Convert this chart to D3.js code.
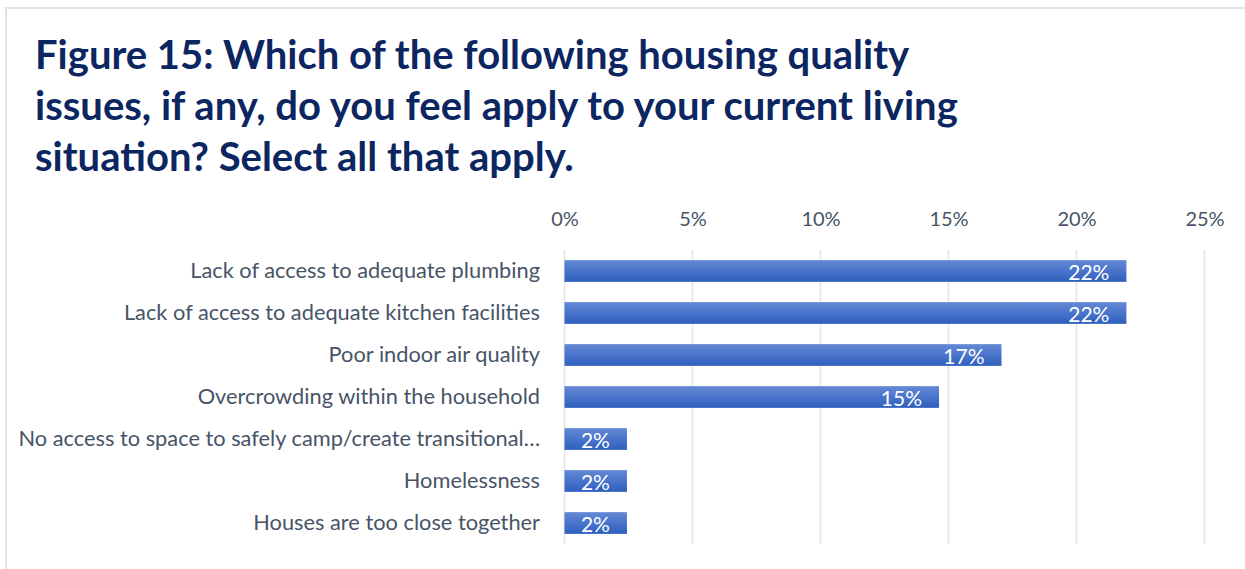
<!DOCTYPE html>
<html>
<head>
<meta charset="utf-8">
<script src="https://cdn.jsdelivr.net/npm/d3@7"></script>
<style>
  html, body { margin: 0; padding: 0; background: #ffffff; }
  svg { display: block; }
  text { font-family: Lato, Carlito, Calibri, "Open Sans", sans-serif; }
</style>
</head>
<body>
<svg id="chart" width="1245" height="569"></svg>
<script>
// Survey responses: share of respondents reporting each housing quality issue (%)
const categories = [
  "Lack of access to adequate plumbing",
  "Lack of access to adequate kitchen facilities",
  "Poor indoor air quality",
  "Overcrowding within the household",
  "No access to space to safely camp/create transitional\u2026",
  "Homelessness",
  "Houses are too close together"
];
const values = [21.95, 21.95, 17.07, 14.63, 2.44, 2.44, 2.44];
const tickValues = [0, 5, 10, 15, 20, 25];
const titleLines = [
  "Figure 15: Which of the following housing quality",
  "issues, if any, do you feel apply to your current living",
  "situation? Select all that apply."
];

const svg = d3.select("#chart");
const W = 1245, H = 569;

svg.append("rect").attr("width", W).attr("height", H).attr("fill", "#ffffff");

// Light frame along the top and left edges
svg.append("path")
  .attr("d", `M6,${H} V8 H${W}`)
  .attr("fill", "none")
  .attr("stroke", "#dfe4eb")
  .attr("stroke-width", 2);

// Title
const title = svg.append("text")
  .attr("x", 35)
  .attr("fill", "#0c2661")
  .attr("font-weight", 700)
  .attr("font-size", 40);
title.selectAll("tspan")
  .data(titleLines)
  .join("tspan")
  .attr("x", 35)
  .attr("y", (d, i) => 69 + i * 51)
  .text(d => d);

// Scales
const x = d3.scaleLinear().domain([0, 25]).range([564.5, 1204.5]);
const pad = 0.483;
const y = d3.scaleBand().domain(categories).range([250, 544])
  .paddingInner(pad).paddingOuter(pad / 2);

// Bar gradient
const defs = svg.append("defs");
const grad = defs.append("linearGradient")
  .attr("id", "barFill")
  .attr("x1", 0).attr("y1", 0).attr("x2", 0).attr("y2", 1);
grad.append("stop").attr("offset", "0%").attr("stop-color", "#6489d4");
grad.append("stop").attr("offset", "50%").attr("stop-color", "#4a74cb");
grad.append("stop").attr("offset", "100%").attr("stop-color", "#2d5fbd");

// Gridlines
svg.append("g")
  .selectAll("line")
  .data(tickValues)
  .join("line")
  .attr("x1", d => x(d)).attr("x2", d => x(d))
  .attr("y1", 250).attr("y2", 544)
  .attr("stroke", "#e1e5ec")
  .attr("stroke-width", 1.6);

// Top axis tick labels
const xAxis = d3.axisTop(x)
  .tickValues(tickValues)
  .tickFormat(d => d + "%")
  .tickSize(0)
  .tickPadding(0);
const gx = svg.append("g")
  .attr("transform", "translate(0,226)")
  .call(xAxis);
gx.select(".domain").remove();
gx.selectAll("text")
  .attr("font-family", "Lato, Carlito, Calibri, sans-serif")
  .attr("font-size", 20)
  .attr("fill", "#475467")
  .attr("dy", 0);

// Category labels
const yAxis = d3.axisLeft(y).tickSize(0).tickPadding(0);
const gy = svg.append("g")
  .attr("transform", "translate(540,0)")
  .call(yAxis);
gy.select(".domain").remove();
gy.selectAll("text")
  .attr("font-family", "Lato, Carlito, Calibri, sans-serif")
  .attr("font-size", 21.8)
  .attr("fill", "#475467")
  .attr("dy", "0.33em");

// Bars
const rows = categories.map((c, i) => ({ c, v: values[i] }));
svg.append("g")
  .selectAll("rect")
  .data(rows)
  .join("rect")
  .attr("x", x(0))
  .attr("y", d => y(d.c))
  .attr("width", d => x(d.v) - x(0))
  .attr("height", y.bandwidth())
  .attr("fill", "url(#barFill)");

// Value labels inside the bar ends
svg.append("g")
  .selectAll("text")
  .data(rows)
  .join("text")
  .attr("x", d => x(d.v) - 17)
  .attr("y", d => y(d.c) + y.bandwidth() / 2 + 9)
  .attr("text-anchor", "end")
  .attr("font-size", 21)
  .attr("fill", "#ffffff")
  .text(d => d3.format(".0f")(d.v) + "%");
</script>
</body>
</html>
